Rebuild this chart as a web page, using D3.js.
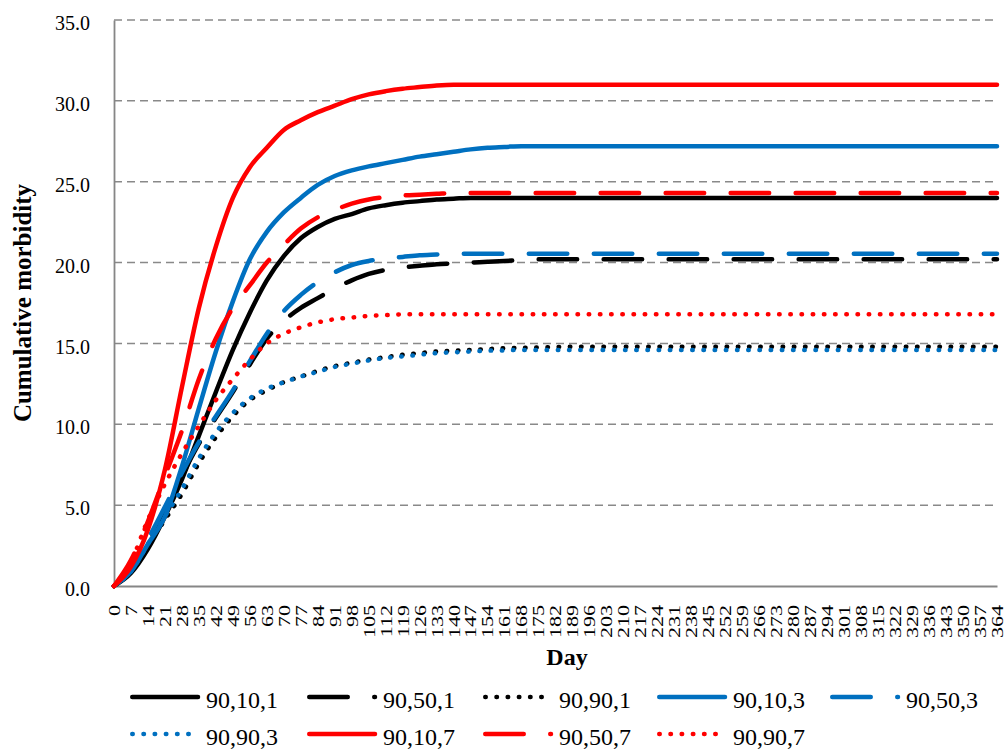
<!DOCTYPE html>
<html>
<head>
<meta charset="utf-8">
<script src="https://cdn.jsdelivr.net/npm/d3@7"></script>
<style>
  html, body { margin: 0; padding: 0; background: #fff; }
  svg { display: block; font-family: "Liberation Serif", "Times New Roman", serif; }
</style>
</head>
<body>
<svg id="chart" width="1005" height="750"></svg>
<script>
// Days shown on the category axis (weekly labels) and the weekly sample days
const tickDays = [
  0, 7, 14, 21, 28, 35, 42, 49, 56, 63,
  70, 77, 84, 91, 98, 105, 112, 119, 126, 133,
  140, 147, 154, 161, 168, 175, 182, 189, 196, 203,
  210, 217, 224, 231, 238, 245, 252, 259, 266, 273,
  280, 287, 294, 301, 308, 315, 322, 329, 336, 343,
  350, 357, 364
];
const yTicks = [0, 5, 10, 15, 20, 25, 30, 35];

const seriesNames = ["90,10,1", "90,50,1", "90,90,1", "90,10,3", "90,50,3", "90,90,3", "90,10,7", "90,50,7", "90,90,7"];

// Cumulative morbidity at each weekly sample day
const s_90_10_1 = [
  0, 0.8, 2.3, 4.3, 6.6, 9.3, 12.0, 14.6, 16.9, 18.9,
  20.4, 21.5, 22.2, 22.7, 23.0, 23.35, 23.55, 23.7, 23.8, 23.9,
  23.95, 24.0, 24.0, 24.0, 24.0, 24.0, 24.0, 24.0, 24.0, 24.0,
  24.0, 24.0, 24.0, 24.0, 24.0, 24.0, 24.0, 24.0, 24.0, 24.0,
  24.0, 24.0, 24.0, 24.0, 24.0, 24.0, 24.0, 24.0, 24.0, 24.0,
  24.0, 24.0, 24.0
];
const s_90_50_1 = [
  0, 1.0, 2.7, 4.6, 6.8, 8.8, 10.4, 12.0, 13.7, 15.3,
  16.4, 17.2, 17.8, 18.4, 18.9, 19.3, 19.55, 19.7, 19.8, 19.9,
  19.95, 20.0, 20.05, 20.1, 20.15, 20.2, 20.2, 20.2, 20.2, 20.2,
  20.2, 20.2, 20.2, 20.2, 20.2, 20.2, 20.2, 20.2, 20.2, 20.2,
  20.2, 20.2, 20.2, 20.2, 20.2, 20.2, 20.2, 20.2, 20.2, 20.2,
  20.2, 20.2, 20.2
];
const s_90_90_1 = [
  0, 0.9, 2.5, 4.1, 5.7, 7.6, 9.2, 10.5, 11.5, 12.1,
  12.6, 12.95, 13.3, 13.6, 13.8, 14.0, 14.15, 14.3, 14.4, 14.5,
  14.55, 14.6, 14.65, 14.7, 14.72, 14.75, 14.78, 14.8, 14.8, 14.8,
  14.8, 14.8, 14.8, 14.8, 14.8, 14.8, 14.8, 14.8, 14.8, 14.8,
  14.8, 14.8, 14.8, 14.8, 14.8, 14.8, 14.8, 14.8, 14.8, 14.8,
  14.8, 14.8, 14.8
];
const s_90_10_3 = [
  0, 0.9, 2.6, 4.3, 7.4, 11.0, 14.5, 17.6, 20.2, 21.9,
  23.1, 24.0, 24.8, 25.35, 25.7, 25.95, 26.15, 26.35, 26.55, 26.7,
  26.85, 27.0, 27.1, 27.15, 27.2, 27.2, 27.2, 27.2, 27.2, 27.2,
  27.2, 27.2, 27.2, 27.2, 27.2, 27.2, 27.2, 27.2, 27.2, 27.2,
  27.2, 27.2, 27.2, 27.2, 27.2, 27.2, 27.2, 27.2, 27.2, 27.2,
  27.2, 27.2, 27.2
];
const s_90_50_3 = [
  0, 1.1, 2.9, 4.9, 7.0, 8.9, 10.5, 12.1, 13.9, 15.6,
  17.0, 18.0, 18.8, 19.4, 19.85, 20.1, 20.25, 20.35, 20.45, 20.5,
  20.55, 20.55, 20.55, 20.55, 20.55, 20.55, 20.55, 20.55, 20.55, 20.55,
  20.55, 20.55, 20.55, 20.55, 20.55, 20.55, 20.55, 20.55, 20.55, 20.55,
  20.55, 20.55, 20.55, 20.55, 20.55, 20.55, 20.55, 20.55, 20.55, 20.55,
  20.55, 20.55, 20.55
];
const s_90_90_3 = [
  0, 0.9, 2.6, 4.3, 6.0, 7.9, 9.5, 10.7, 11.6, 12.2,
  12.6, 12.95, 13.25, 13.55, 13.75, 13.95, 14.1, 14.2, 14.3, 14.4,
  14.45, 14.5, 14.55, 14.57, 14.6, 14.6, 14.6, 14.6, 14.6, 14.6,
  14.6, 14.6, 14.6, 14.6, 14.6, 14.6, 14.6, 14.6, 14.6, 14.6,
  14.6, 14.6, 14.6, 14.6, 14.6, 14.6, 14.6, 14.6, 14.6, 14.6,
  14.6, 14.6, 14.6
];
const s_90_10_7 = [
  0, 1.2, 3.5, 7.2, 12.3, 17.2, 21.0, 24.0, 25.9, 27.1,
  28.2, 28.8, 29.3, 29.7, 30.1, 30.4, 30.6, 30.75, 30.85, 30.95,
  31.0, 31.0, 31.0, 31.0, 31.0, 31.0, 31.0, 31.0, 31.0, 31.0,
  31.0, 31.0, 31.0, 31.0, 31.0, 31.0, 31.0, 31.0, 31.0, 31.0,
  31.0, 31.0, 31.0, 31.0, 31.0, 31.0, 31.0, 31.0, 31.0, 31.0,
  31.0, 31.0, 31.0
];
const s_90_50_7 = [
  0, 1.6, 4.0, 6.8, 9.6, 12.8, 15.3, 17.2, 18.6, 20.0,
  21.1, 22.1, 22.8, 23.25, 23.65, 23.9, 24.05, 24.15, 24.2, 24.25,
  24.3, 24.3, 24.3, 24.3, 24.3, 24.3, 24.3, 24.3, 24.3, 24.3,
  24.3, 24.3, 24.3, 24.3, 24.3, 24.3, 24.3, 24.3, 24.3, 24.3,
  24.3, 24.3, 24.3, 24.3, 24.3, 24.3, 24.3, 24.3, 24.3, 24.3,
  24.3, 24.3, 24.3
];
const s_90_90_7 = [
  0, 1.5, 4.1, 6.3, 8.2, 9.9, 11.5, 12.8, 14.0, 15.0,
  15.6, 16.0, 16.3, 16.5, 16.6, 16.7, 16.75, 16.8, 16.8, 16.8,
  16.8, 16.8, 16.8, 16.8, 16.8, 16.8, 16.8, 16.8, 16.8, 16.8,
  16.8, 16.8, 16.8, 16.8, 16.8, 16.8, 16.8, 16.8, 16.8, 16.8,
  16.8, 16.8, 16.8, 16.8, 16.8, 16.8, 16.8, 16.8, 16.8, 16.8,
  16.8, 16.8, 16.8
];

const seriesValues = [s_90_10_1, s_90_50_1, s_90_90_1, s_90_10_3, s_90_50_3, s_90_90_3, s_90_10_7, s_90_50_7, s_90_90_7];
const seriesColors = ["#000000", "#000000", "#000000", "#0070C0", "#0070C0", "#0070C0", "#FF0000", "#FF0000", "#FF0000"];
const seriesDash = ["solid", "dash", "dot", "solid", "dash", "dot", "solid", "dash", "dot"];

const dashArray = { solid: null, dash: "38.5,26.5", dot: "0.5,10.7" };

const svg = d3.select("#chart");
const plotLeft = 114, plotRight = 997, plotTop = 20, plotBottom = 586;

// Category axis: one slot per day of the year
const allDays = d3.range(0, 365);
const x = d3.scalePoint().domain(allDays).range([plotLeft, plotRight]);
const y = d3.scaleLinear().domain([0, 35]).range([plotBottom, plotTop]);

// Horizontal gridlines
svg.append("g")
  .selectAll("line")
  .data(yTicks.filter(v => v > 0))
  .join("line")
  .attr("x1", plotLeft).attr("x2", plotRight)
  .attr("y1", d => y(d)).attr("y2", d => y(d))
  .attr("stroke", "#898989")
  .attr("stroke-width", 1.5)
  .attr("stroke-dasharray", "8,5");

// Y axis
const yAxis = svg.append("g")
  .attr("transform", `translate(${plotLeft},0)`)
  .call(d3.axisLeft(y).tickValues(yTicks).tickFormat(d3.format(".1f")).tickSize(0).tickPadding(24));
yAxis.select(".domain").attr("stroke", "#868686").attr("stroke-width", 1.8);
yAxis.selectAll("text")
  .attr("font-family", "'Liberation Serif', 'Times New Roman', serif")
  .attr("font-size", 20)
  .attr("fill", "#000")
  .attr("dy", "0.48em");

// X axis
const xAxis = svg.append("g")
  .attr("transform", `translate(0,${plotBottom})`)
  .call(d3.axisBottom(x).tickValues(tickDays).tickSize(0));
xAxis.select(".domain").attr("stroke", "#868686").attr("stroke-width", 1.8);
xAxis.selectAll("text")
  .attr("font-family", "'Liberation Serif', 'Times New Roman', serif")
  .attr("font-size", 22)
  .attr("fill", "#000")
  .attr("x", 0).attr("y", 0)
  .attr("text-anchor", "end")
  .attr("dy", "0.34em")
  .attr("transform", "translate(0,19) rotate(-90) scale(1,0.72)");

// Series lines
const line = d3.line()
  .x(d => x(d.day))
  .y(d => y(d.v))
  .curve(d3.curveMonotoneX);

const series = seriesNames.map((name, i) => ({
  name,
  color: seriesColors[i],
  dash: seriesDash[i],
  points: tickDays.map((day, k) => ({ day, v: seriesValues[i][k] }))
}));

svg.append("g")
  .selectAll("path")
  .data(series)
  .join("path")
  .attr("d", d => line(d.points))
  .attr("fill", "none")
  .attr("stroke", d => d.color)
  .attr("stroke-width", 4.5)
  .attr("stroke-linecap", "round")
  .attr("stroke-linejoin", "round")
  .attr("stroke-dasharray", d => dashArray[d.dash]);

// Axis titles
svg.append("text")
  .attr("x", 567).attr("y", 665)
  .attr("text-anchor", "middle")
  .attr("font-weight", "bold")
  .attr("font-size", 24)
  .text("Day");

svg.append("text")
  .attr("transform", "translate(31,303) rotate(-90)")
  .attr("text-anchor", "middle")
  .attr("font-weight", "bold")
  .attr("font-size", 25)
  .text("Cumulative morbidity");

// Legend
const legendCols = [130, 307, 483, 657, 830];
const legendRows = [697, 734];
const legend = svg.append("g")
  .selectAll("g")
  .data(series)
  .join("g")
  .attr("transform", (d, i) => `translate(${legendCols[i % 5]},${legendRows[Math.floor(i / 5)]})`);

legend.append("line")
  .attr("x1", 2.25).attr("x2", 68)
  .attr("y1", 0).attr("y2", 0)
  .attr("stroke", d => d.color)
  .attr("stroke-width", 4.5)
  .attr("stroke-linecap", "round")
  .attr("stroke-dasharray", d => dashArray[d.dash]);

legend.append("text")
  .attr("x", 76).attr("y", 11)
  .attr("font-size", 24)
  .attr("fill", "#000")
  .text(d => d.name);
</script>
</body>
</html>
